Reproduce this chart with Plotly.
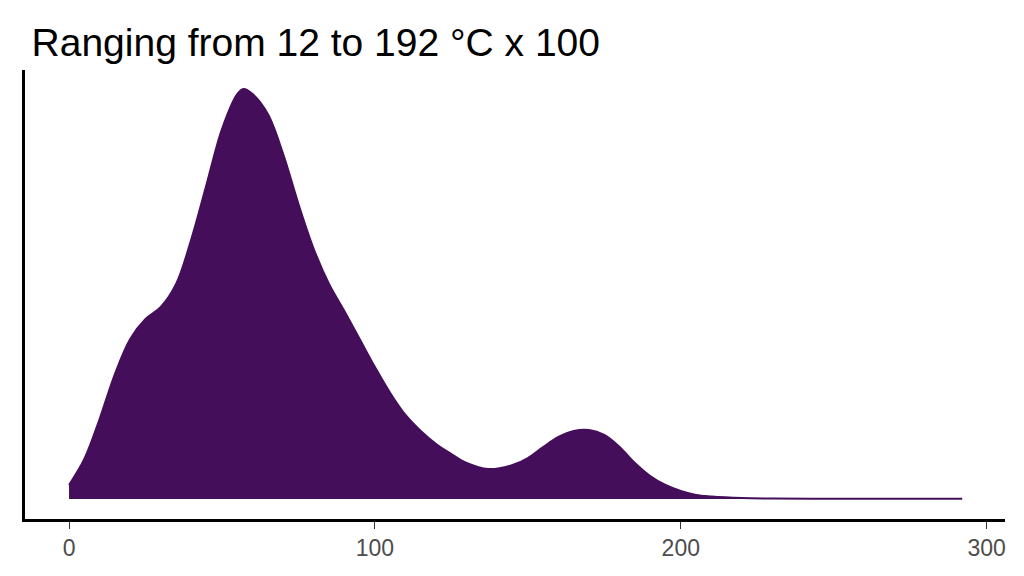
import plotly.graph_objects as go

# density curve (arbitrary units)
temp = [0, 5, 10, 15, 20, 25, 30, 35, 40, 45, 50, 55, 57, 60, 65, 70, 75, 80, 85, 90, 95, 100,
        105, 110, 115, 120, 125, 130, 137, 145, 150, 155, 160, 165, 170, 175, 180, 185, 190,
        195, 200, 205, 210, 220, 230, 250, 270, 292]
dens = [14, 40, 80, 125, 160, 180, 192, 215, 260, 315, 370, 405, 410, 405, 385, 345, 295,
        250, 215, 188, 160, 132, 106, 84, 68, 55, 45, 36, 30, 34, 41, 52, 62, 68, 69, 64, 52,
        36, 23, 14, 8, 4, 2.5, 1, 0.5, 0.3, 0.3, 0.3]

fig = go.Figure(go.Scatter(
    x=temp, y=dens, mode="lines", fill="tozeroy",
    line=dict(color="#440E5A", width=2, shape="spline", smoothing=1),
    fillcolor="#440E5A", hoverinfo="skip"))

fig.update_layout(
    width=1024, height=576, plot_bgcolor="white", paper_bgcolor="white",
    margin=dict(l=17, r=27, t=62, b=65), showlegend=False,
    font=dict(family="Liberation Sans, Arial", color="#4d4d4d"),
    title=dict(text="Ranging from 12 to 192 °C x 100", x=0.023, xanchor="left",
               y=0.94, yanchor="middle", font=dict(size=39, color="black")),
    xaxis=dict(range=[-14.4, 306], tickvals=[0, 100, 200, 300], ticks="outside",
               ticklen=7, tickcolor="#333", showline=True, linecolor="black",
               linewidth=2.5, showgrid=False, zeroline=False, tickfont=dict(size=23)),
    yaxis=dict(range=[-20, 429], showticklabels=False, ticks="", showline=True,
               linecolor="black", linewidth=2.5, showgrid=False, zeroline=False),
)

fig.write_html("out.html")
